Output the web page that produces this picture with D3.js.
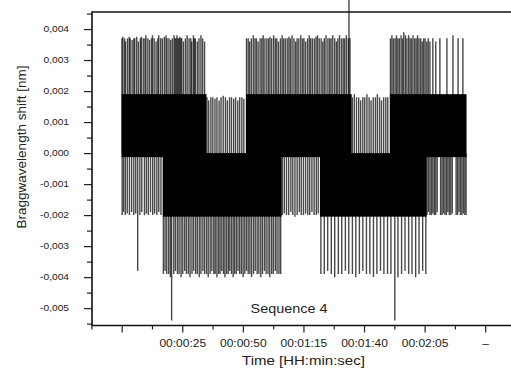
<!DOCTYPE html>
<html>
<head>
<meta charset="utf-8">
<script src="https://cdn.jsdelivr.net/npm/d3@7"></script>
<style>
  body { margin: 0; background: #fff; }
  svg { display: block; font-family: "Liberation Sans", Arial, sans-serif; }
</style>
</head>
<body>
<div id="chart"></div>
<script>
// time in seconds, shift in nm

// dense bands (high state / low state alternate, overlapping during switches)
const bandStart = [0, 17.0, 51.3, 81.8, 110.7];
const bandEnd   = [35.0, 66.0, 94.9, 125.8, 142.3];
const bandHigh  = [0.0019, 0.0000, 0.0019, 0.0000, 0.0019];
const bandLow   = [-0.00013, -0.00205, -0.00013, -0.00205, -0.00013];

// single spikes: [time, peak]
const h1Up = [[0.1,0.0037],[0.5,0.00375],[1.2,0.0037],[1.6,0.0036],[2.4,0.0037],[3.1,0.00375],[3.5,0.0037],[4.3,0.00365],[5.0,0.0037],[5.4,0.0037],[6.2,0.00375],[6.9,0.0036],[7.7,0.0037],[8.1,0.00375],[8.9,0.0037],[9.6,0.0037],[10.0,0.0038],[10.8,0.0037],[11.5,0.00365],[12.3,0.0037],[12.7,0.0038],[13.4,0.0037],[14.2,0.0036],[14.9,0.0037],[15.3,0.0038],[16.1,0.0037],[16.8,0.0037],[17.6,0.00375],[18.3,0.0038],[18.7,0.0037],[19.5,0.0037],[20.2,0.00365],[20.9,0.0037],[21.6,0.0038],[22.0,0.0037],[22.4,0.0037],[22.8,0.0038],[23.2,0.0037],[23.6,0.0037],[24.0,0.00375],[24.4,0.0037],[24.8,0.0037],[25.5,0.0036],[26.3,0.0037],[27.0,0.0038],[27.8,0.0037],[28.5,0.0037],[28.9,0.0036],[29.6,0.0038],[30.0,0.0037],[30.4,0.0037],[31.2,0.0036],[31.9,0.0037],[32.7,0.0038],[33.4,0.0037],[34.2,0.0036]];
const h1Down = [[0.2,-0.0020],[0.8,-0.0019],[1.5,-0.0020],[2.3,-0.00195],[3.2,-0.0020],[4.1,-0.0019],[5.0,-0.0020],[5.8,-0.00195],[6.6,-0.0038],[7.5,-0.0020],[8.3,-0.0019],[9.4,-0.0020],[10.2,-0.00195],[11.0,-0.0020],[11.9,-0.0019],[12.8,-0.0020],[13.6,-0.00195],[14.5,-0.0020],[15.3,-0.0019],[16.2,-0.0020]];
const l1Up = [[35.2,0.0018],[35.9,0.0017],[36.8,0.0018],[37.6,0.0018],[38.5,0.00175],[39.3,0.0018],[40.2,0.0017],[41.0,0.0018],[41.9,0.00185],[42.8,0.0018],[43.6,0.0017],[44.5,0.0018],[45.3,0.0018],[46.2,0.00175],[47.0,0.0018],[47.9,0.0017],[48.7,0.0018],[49.6,0.0018],[50.4,0.00175]];
const l1Down = [[17.2,-0.0039],[17.9,-0.0038],[18.6,-0.0039],[19.4,-0.0039],[20.1,-0.0040],[20.6,-0.0054],[21.5,-0.0039],[22.2,-0.0038],[23.0,-0.0039],[23.7,-0.0039],[24.5,-0.0040],[25.2,-0.0039],[26.0,-0.0038],[26.7,-0.0039],[27.5,-0.0039],[28.2,-0.0040],[29.0,-0.0039],[29.7,-0.0038],[30.5,-0.0039],[31.2,-0.0039],[32.0,-0.0040],[32.7,-0.0039],[33.5,-0.0038],[34.2,-0.0039],[35.0,-0.0039],[35.7,-0.0040],[36.5,-0.0039],[37.2,-0.0038],[38.0,-0.0039],[38.6,-0.0039],[39.3,-0.0040],[40.0,-0.0039],[40.6,-0.0039],[41.3,-0.0038],[42.0,-0.0039],[42.6,-0.0040],[43.3,-0.0039],[44.0,-0.0039],[44.6,-0.0038],[45.3,-0.0039],[46.0,-0.0040],[46.6,-0.0039],[47.3,-0.0039],[48.0,-0.0038],[48.7,-0.0039],[49.4,-0.0039],[50.1,-0.0040],[50.8,-0.0039],[51.5,-0.0038],[52.2,-0.0039],[52.9,-0.0039],[53.6,-0.0040],[54.4,-0.0039],[55.1,-0.0038],[55.9,-0.0039],[56.6,-0.0039],[57.4,-0.0040],[58.1,-0.0039],[58.9,-0.0038],[59.6,-0.0039],[60.4,-0.0039],[61.1,-0.0040],[61.9,-0.0039],[62.6,-0.0039],[63.4,-0.0038],[64.1,-0.0039],[64.9,-0.0039],[65.6,-0.0039]];
const h2Up = [[51.5,0.0037],[52.2,0.0037],[52.8,0.0036],[53.5,0.0037],[54.3,0.0038],[55.0,0.0037],[55.6,0.0037],[56.3,0.0036],[57.1,0.0037],[57.8,0.0037],[58.4,0.0038],[59.1,0.0037],[59.9,0.0037],[60.6,0.0037],[61.2,0.00375],[61.9,0.0037],[62.7,0.0038],[63.4,0.0037],[64.0,0.0037],[64.7,0.0036],[65.5,0.0037],[66.2,0.0038],[66.8,0.0037],[67.5,0.0037],[68.3,0.0037],[69.0,0.00375],[69.6,0.0037],[70.3,0.0038],[71.1,0.0037],[71.8,0.0036],[72.4,0.0037],[73.1,0.0037],[73.9,0.0038],[74.6,0.0037],[75.2,0.0037],[75.9,0.0036],[76.7,0.0037],[77.4,0.0038],[78.0,0.0037],[78.7,0.0037],[79.5,0.0037],[80.2,0.00375],[80.8,0.0038],[81.5,0.0037],[82.3,0.0037],[83.0,0.0036],[83.6,0.0037],[84.3,0.0038],[85.1,0.0037],[85.8,0.0037],[86.4,0.0037],[87.1,0.0038],[87.9,0.0037],[88.6,0.0036],[89.2,0.0037],[89.9,0.0038],[90.7,0.0037],[91.4,0.0037],[92.0,0.0037],[92.7,0.0038],[93.5,0.0037],[93.8,0.0050],[94.2,0.0037]];
const h2Down = [[66.3,-0.0020],[67.1,-0.00195],[68.0,-0.0020],[68.9,-0.0020],[69.8,-0.0019],[70.6,-0.0020],[71.5,-0.00205],[72.4,-0.0020],[73.3,-0.0019],[74.1,-0.0020],[75.0,-0.0020],[75.9,-0.00195],[76.8,-0.0020],[77.6,-0.0020],[78.5,-0.0019],[79.4,-0.0020],[80.3,-0.0020],[81.1,-0.00195]];
const l2Up = [[95.2,0.0018],[96.0,0.0019],[96.9,0.0018],[97.8,0.0018],[98.6,0.0017],[99.5,0.0018],[100.3,0.0018],[101.2,0.0019],[102.1,0.0018],[102.9,0.0017],[103.8,0.0018],[104.7,0.0018],[105.5,0.0019],[106.4,0.0018],[107.2,0.0017],[108.1,0.0018],[109.0,0.0018],[109.8,0.0018]];
const l2Down = [[82.2,-0.0039],[83.6,-0.0039],[85.0,-0.0038],[86.5,-0.0039],[87.9,-0.0040],[89.4,-0.0039],[90.8,-0.0039],[92.3,-0.0038],[93.7,-0.0039],[95.2,-0.0039],[96.6,-0.0040],[98.1,-0.0039],[99.5,-0.0038],[101.0,-0.0039],[102.4,-0.0039],[103.9,-0.0040],[105.3,-0.0039],[106.8,-0.0038],[108.2,-0.0039],[109.7,-0.0039],[111.1,-0.0039],[112.7,-0.0054],[114.0,-0.0040],[115.5,-0.0039],[116.9,-0.0038],[118.4,-0.0039],[119.8,-0.0039],[121.3,-0.0040],[122.7,-0.0039],[124.2,-0.0038],[125.5,-0.0039]];
const h3Up = [[110.9,0.0037],[111.5,0.0038],[112.1,0.0037],[112.8,0.0037],[113.4,0.0038],[114.0,0.0037],[114.6,0.0037],[115.3,0.0038],[115.9,0.0037],[116.4,0.0039],[117.1,0.0038],[117.7,0.0037],[118.4,0.0038],[119.0,0.0037],[119.6,0.0037],[120.2,0.0038],[120.9,0.0037],[121.5,0.0037],[122.1,0.0038],[122.7,0.0037],[123.4,0.0037],[124.0,0.0036],[124.6,0.0037],[125.2,0.0037],[125.9,0.0036],[126.5,0.0037],[127.2,0.0036],[128.4,0.0037],[129.6,0.0036],[131.3,0.0037],[134.2,0.0037],[136.7,0.0038],[138.8,0.0037],[140.8,0.0037]];
const h3Down = [[126.0,-0.0020],[126.6,-0.0019],[127.2,-0.0020],[127.8,-0.0020],[128.4,-0.00195],[129.0,-0.0020],[129.6,-0.0020],[130.2,-0.0019],[131.6,-0.0020],[132.2,-0.0020],[132.8,-0.00195],[133.4,-0.0020],[134.0,-0.0020],[134.6,-0.0019],[135.2,-0.0020],[135.8,-0.0020],[136.4,-0.00195],[138.0,-0.0020],[138.6,-0.0020],[139.2,-0.0019],[139.8,-0.0020],[140.4,-0.0020],[141.0,-0.00195],[141.6,-0.0020],[142.1,-0.0020]];

// axes
const yTicks = [-0.005, -0.004, -0.003, -0.002, -0.001, 0, 0.001, 0.002, 0.003, 0.004];
const yMinor = [-0.0055, -0.0045, -0.0035, -0.0025, -0.0015, -0.0005, 0.0005, 0.0015, 0.0025, 0.0035, 0.0045];
const xTicks = [0, 25, 50, 75, 100, 125, 150];
const xTickLabels = ['', '00:00:25', '00:00:50', '00:01:15', '00:01:40', '00:02:05', '\u2013'];
const xMinor = [-12.5, 12.5, 37.5, 62.5, 87.5, 112.5, 137.5];

const margin = { top: 12, right: -4, bottom: 44.5, left: 92 };
const W = 511, H = 370;
const width = W - margin.left - margin.right;
const height = H - margin.top - margin.bottom;

const svg = d3.select('#chart')
  .append('svg')
  .attr('width', W)
  .attr('height', H);

const g = svg.append('g')
  .attr('transform', `translate(${margin.left},${margin.top})`);

const x = d3.scaleLinear().domain([-12.25, 162.3]).range([0, width]);
const y = d3.scaleLinear().domain([-0.00556, 0.00455]).range([height, 0]);

const locale = d3.formatLocale({ decimal: ',', thousands: '.', grouping: [3], currency: ['', ''], minus: '-' });
const fmt = locale.format('.3f');

// spikes first, bands on top
const spikes = [].concat(h1Up, h1Down, l1Up, l1Down, h2Up, h2Down, l2Up, l2Down, h3Up, h3Down);
g.append('g')
  .selectAll('line')
  .data(spikes)
  .enter()
  .append('line')
    .attr('x1', (d) => x(d[0]))
    .attr('x2', (d) => x(d[0]))
    .attr('y1', y(0))
    .attr('y2', (d) => y(d[1]))
    .attr('stroke', '#000')
    .attr('stroke-opacity', 0.72)
    .attr('stroke-width', 1.4);

g.append('g')
  .selectAll('rect')
  .data(d3.range(bandStart.length))
  .enter()
  .append('rect')
    .attr('x', (i) => x(bandStart[i]))
    .attr('width', (i) => x(bandEnd[i]) - x(bandStart[i]))
    .attr('y', (i) => y(bandHigh[i]))
    .attr('height', (i) => y(bandLow[i]) - y(bandHigh[i]))
    .attr('fill', '#000');

// y axis
const yAx = g.append('g')
  .call(d3.axisLeft(y).tickValues(yTicks).tickFormat(fmt).tickSize(8).tickPadding(15));
const yAxMinor = g.append('g')
  .call(d3.axisLeft(y).tickValues(yMinor).tickFormat('').tickSize(5));

// x axis
const xAx = g.append('g')
  .attr('transform', `translate(0,${height})`)
  .call(d3.axisBottom(x).tickValues(xTicks).tickFormat((d, i) => xTickLabels[i]).tickSize(7).tickPadding(7));
const xAxMinor = g.append('g')
  .attr('transform', `translate(0,${height})`)
  .call(d3.axisBottom(x).tickValues(xMinor).tickFormat('').tickSize(4));

[yAx, yAxMinor, xAx, xAxMinor].forEach((a) => {
  a.select('.domain').remove();
  a.selectAll('.tick line').attr('stroke', '#222').attr('stroke-width', 1.2);
  a.selectAll('.tick text').attr('fill', '#222').style('font-family', '"Liberation Sans", Arial, sans-serif');
});
yAx.selectAll('.tick text').style('font-size', '8.5px').classed('stretch', true);
xAx.selectAll('.tick text').style('font-size', '10px').classed('stretch', true);

// frame
g.append('path')
  .attr('d', `M${width},0H0V${height}H${width}`)
  .attr('fill', 'none')
  .attr('stroke', '#111')
  .attr('stroke-width', 1.6);

// labels
svg.append('text')
  .attr('class', 'stretch')
  .attr('x', 303.5)
  .attr('y', 365)
  .attr('text-anchor', 'middle')
  .attr('fill', '#222')
  .style('font-size', '12.5px')
  .text('Time [HH:min:sec]');

svg.append('text')
  .attr('class', 'stretch')
  .attr('x', 289)
  .attr('y', 313)
  .attr('text-anchor', 'middle')
  .attr('fill', '#222')
  .style('font-size', '12px')
  .text('Sequence 4');

svg.append('text')
  .attr('transform', 'translate(26,147) rotate(-90)')
  .attr('text-anchor', 'middle')
  .attr('fill', '#222')
  .style('font-size', '13.5px')
  .text('Braggwavelength shift [nm]');

// the source figure is stretched horizontally
svg.selectAll('text.stretch').each(function () {
  const len = this.getComputedTextLength();
  if (len > 0) {
    d3.select(this).attr('textLength', len * 1.2).attr('lengthAdjust', 'spacingAndGlyphs');
  }
});
</script>
</body>
</html>
